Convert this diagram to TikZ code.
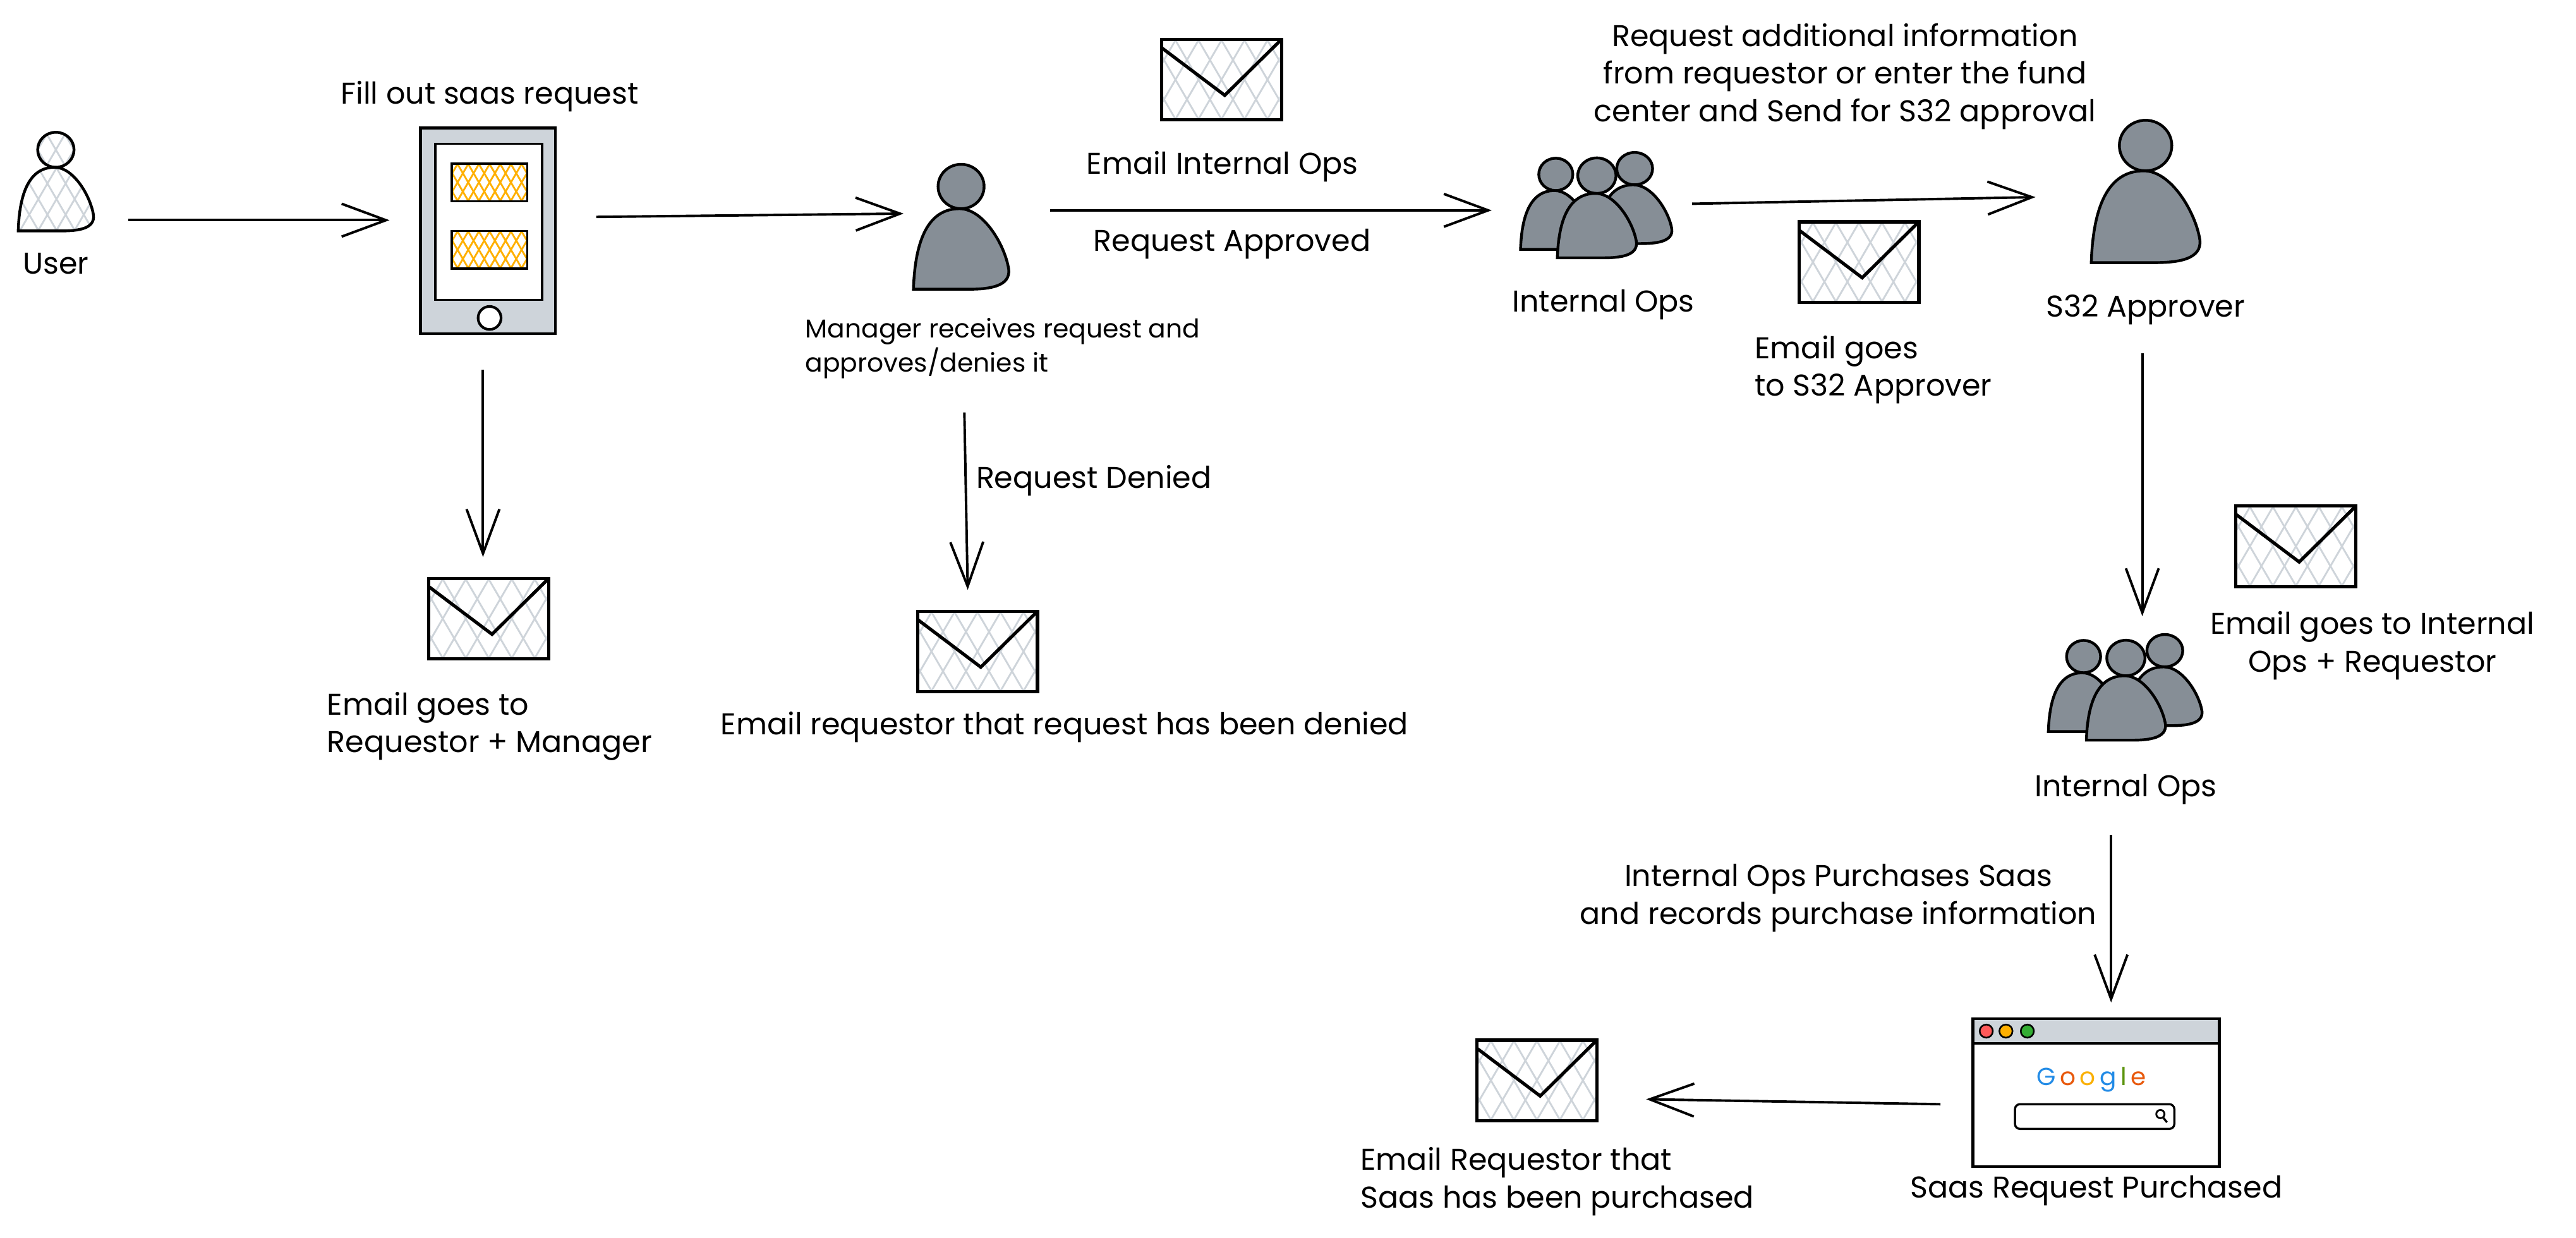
\documentclass[tikz,border=0pt]{standalone}
\usepackage{fontspec}
\setmainfont{Poppins}
\usetikzlibrary{arrows.meta, shapes.geometric, positioning}

\definecolor{hatchgrey}{HTML}{CED4DA}
\definecolor{bodygrey}{HTML}{868E96}
\definecolor{hatchamber}{HTML}{FFB000}
\definecolor{gBlue}{HTML}{228BE6}
\definecolor{gRed}{HTML}{E8590C}
\definecolor{gAmber}{HTML}{FAB005}
\definecolor{gGreen}{HTML}{5C940D}

\newcommand{\hatchlines}[2]{%
	\foreach \k in {-12,...,12} {
		\draw[#1, line width=1.1pt, shift={(path picture bounding box.center)}]
			(\k*#2-35, -60) -- (\k*#2+35, 60)
			(\k*#2+35, -60) -- (\k*#2-35, 60);
	}%
}

\tikzset{
	txt/.style={font=\fontsize{18.3}{23}\selectfont, align=center, inner sep=0pt, yshift=-1.5pt},
	txtleft/.style={txt, align=left, anchor=west},
	spot/.style={inner sep=0pt, outer sep=0pt},
	greybody/.style={draw, line width=1.7pt, fill=bodygrey},
	hatchbody/.style={draw, line width=1.7pt, path picture={\hatchlines{hatchgrey}{14}}},
	mail/.style={rectangle, draw, line width=2pt, inner sep=0pt, minimum width=73pt, minimum height=49pt,
		path picture={\hatchlines{hatchgrey}{14}
			\draw[line width=2pt] ([yshift=-5pt]path picture bounding box.north west)
				-- ([xshift=2pt,yshift=-34pt]path picture bounding box.north)
				-- (path picture bounding box.north east);}},
	entry/.style={rectangle, draw, line width=1.4pt, inner sep=0pt, minimum width=46pt, minimum height=23pt,
		path picture={\hatchlines{hatchamber}{6.5}}},
	dot/.style={circle, draw, line width=1pt, inner sep=0pt, minimum size=8pt},
	person/.pic={
		\path[#1] (0, -24.5) ellipse [x radius=14, y radius=13.5];
		\path[#1] (-29, 38) .. controls (-28, 8) and (-20, -11) .. (-1, -11)
			.. controls (14, -11) and (27, 12) .. (29, 26)
			.. controls (30, 36) and (18, 38) .. (5, 38) -- cycle;
	},
	crowd/.pic={
		\pic[xscale=.74, yscale=.73] at (-24.5, -1) {person={greybody}};
		\pic[xscale=.78, yscale=.73] at (23.5, -4.5) {person={greybody}};
		\pic[xscale=.83, yscale=.80] at (.5, 1.5) {person={greybody}};
	}
}

\begin{document}
\begin{tikzpicture}[x=1pt, y=-1pt, >={Straight Barb[length=27pt, width=20pt]}, flow/.style={->, line width=1.5pt, shorten >=-2pt}]

	\useasboundingbox[fill=white] (0, 0) rectangle (1568, 753.4);

	\node[spot, minimum width=46pt, minimum height=59pt]	(user)		at	(34, 110.5)	{};
	\pic[scale=.79]	at	(user)	{person={hatchbody}};
	\node[txt]	(userText)	at	(34, 159)	{User};

	\node[txt]	(formText)	at	(298, 57)	{Fill out saas request};
	\node[rectangle, draw, line width=1.8pt, fill=hatchgrey, minimum width=82pt, minimum height=125pt]	(form)	at	(297, 140.5)	{};
	\node[rectangle, draw, line width=1.5pt, fill=white, minimum width=65pt, minimum height=95pt]	(screen)	at	(297.5, 135)	{};
	\node[entry]	(entryA)	at	(298, 111)	{};
	\node[entry]	(entryB)	at	(298, 152)	{};
	\node[circle, draw, line width=1.6pt, fill=white, inner sep=0pt, minimum size=14pt]	(button)	at	(298, 193.5)	{};

	\node[spot, minimum width=58pt, minimum height=76pt]	(manager)	at	(585, 138)	{};
	\pic	at	(manager)	{person={greybody}};
	\node[txtleft, font=\fontsize{15.7}{21}\selectfont]	(managerText)	at	(490, 210.5)	{Manager receives request and \\ approves/denies it};

	\node[mail]	(mailA)	at	(743.5, 48.5)	{};
	\node[txt]	(mailAText)	at	(744, 100)	{Email Internal Ops};
	\node[txt]	(approvedText)	at	(750, 147)	{Request Approved};

	\node[txt]	(askText)	at	(1123, 45)	{Request additional information \\ from requestor or enter the fund \\ center and Send for S32 approval};
	\node[spot, minimum width=93pt, minimum height=64pt]	(opsA)	at	(971.5, 125)	{};
	\pic	at	(opsA)	{crowd};
	\node[txt]	(opsAText)	at	(976, 184)	{Internal Ops};

	\node[mail]	(mailB)	at	(1131.5, 159.5)	{};
	\node[txtleft]	(mailBText)	at	(1068, 223.5)	{Email goes \\ to S32 Approver};

	\node[spot, minimum width=66pt, minimum height=87pt]	(approver)	at	(1306, 116.5)	{};
	\pic[xscale=1.14, yscale=1.14]	at	(approver)	{person={greybody}};
	\node[txt]	(approverText)	at	(1306, 187)	{S32 Approver};

	\node[mail]	(mailC)	at	(297.5, 376.5)	{};
	\node[txtleft]	(mailCText)	at	(199, 440.5)	{Email goes to \\ Requestor + Manager};

	\node[txtleft]	(deniedText)	at	(594, 291)	{Request Denied};
	\node[mail]	(mailD)	at	(595, 396.5)	{};
	\node[txt]	(mailDText)	at	(648, 441)	{Email requestor that request has been denied};

	\node[mail]	(mailE)	at	(1397.5, 332.5)	{};
	\node[txt]	(mailEText)	at	(1444, 391.5)	{Email goes to Internal \\ Ops + Requestor};

	\node[spot, minimum width=93pt, minimum height=67pt]	(opsB)	at	(1293.5, 418.5)	{};
	\pic[scale=1.03]	at	(opsB)	{crowd};
	\node[txt]	(opsBText)	at	(1294, 479)	{Internal Ops};

	\node[txt]	(buyText)	at	(1119, 545)	{Internal Ops Purchases Saas \\ and records purchase information};

	\node[rectangle, draw, line width=1.8pt, fill=white, minimum width=150pt, minimum height=90pt]	(browser)	at	(1276, 665)	{};
	\node[rectangle, draw, line width=1.8pt, fill=hatchgrey, minimum width=150pt, minimum height=15pt, anchor=north]	(titlebar)	at	(browser.north)	{};
	\node[dot, fill=red!65!white]	(dotA)	at	(1209, 627.5)	{};
	\node[dot, fill=hatchamber]	(dotB)	at	(1221, 627.5)	{};
	\node[dot, fill=green!60!black!80!white]	(dotC)	at	(1234, 627.5)	{};
	\node[inner sep=0pt, font=\fontsize{15}{20}\selectfont]	(google)	at	(1273, 657)	{\textcolor{gBlue}{G}\,\textcolor{gRed}{o}\,\textcolor{gAmber}{o}\,\textcolor{gBlue}{g}\,\textcolor{gGreen}{l}\,\textcolor{gRed}{e}};
	\node[rectangle, rounded corners=3pt, draw, line width=1.3pt, inner sep=0pt, minimum width=97pt, minimum height=15pt]	(search)	at	(1275, 679.5)	{};
	\node[circle, draw, line width=1.1pt, inner sep=0pt, minimum size=5pt]	(lens)	at	(1315, 678)	{};
	\draw[line width=1.3pt] (lens) -- ++(4, 5);
	\node[txt]	(browserText)	at	(1276, 723)	{Saas Request Purchased};

	\node[mail]	(mailF)	at	(935.5, 657.5)	{};
	\node[txtleft]	(mailFText)	at	(828, 717.5)	{Email Requestor that \\ Saas has been purchased};

	\path[flow]	([xshift=21pt, yshift=-23.5pt]user.east)	edge	([xshift=-20pt, yshift=6.5pt]form.west)
			([xshift=24pt, yshift=8.5pt]form.east)	edge	([xshift=-8pt, yshift=8pt]manager.west)
			([xshift=25pt, yshift=10pt]manager.east)	edge	([xshift=-19pt, yshift=-3pt]opsA.west)
			([xshift=12pt, yshift=1pt]opsA.east)	edge	([xshift=-36pt, yshift=-3.5pt]approver.west)
			([xshift=-3pt, yshift=-21pt]form.south)	edge	([xshift=-3.5pt, yshift=14pt]mailC.north)
			([xshift=2pt, yshift=-75pt]manager.south)	edge	([xshift=-6pt, yshift=14pt]mailD.north)
			([xshift=-2pt, yshift=-55pt]approver.south)	edge	([xshift=10.5pt, yshift=12pt]opsB.north)
			([xshift=-8.5pt, yshift=-56pt]opsB.south)	edge	([xshift=9pt, yshift=11pt]browser.north)
			([xshift=-19pt, yshift=-7pt]browser.west)	edge	([xshift=31pt, yshift=-11.5pt]mailF.east);

\end{tikzpicture}
\end{document}
